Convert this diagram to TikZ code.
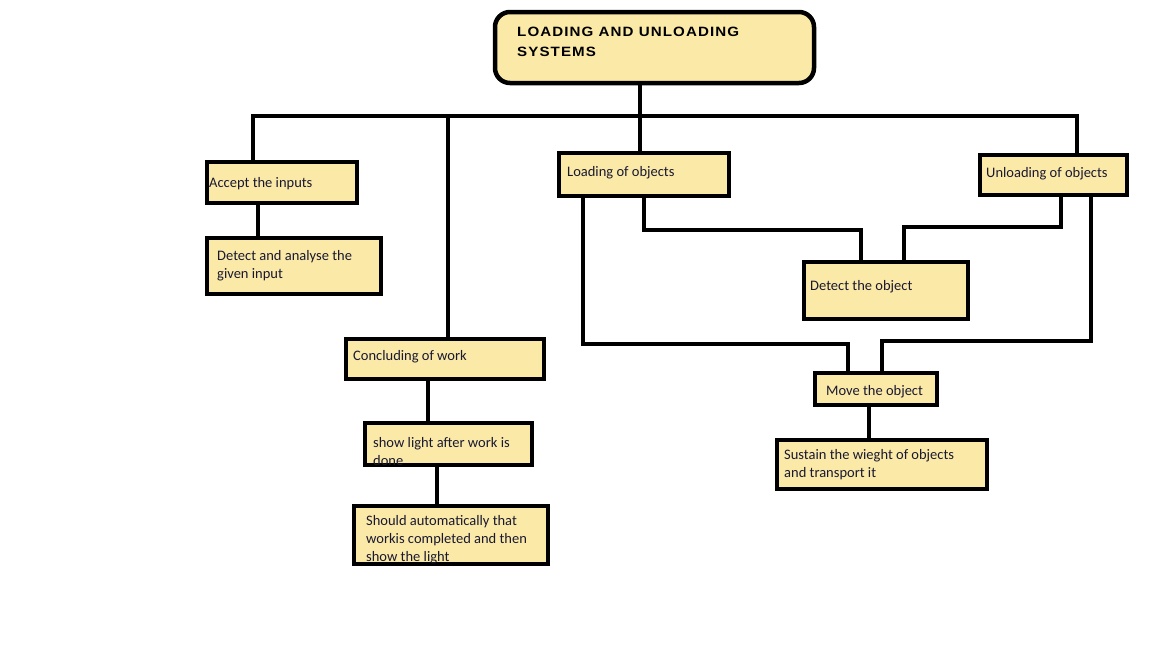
\documentclass[tikz,border=0pt]{standalone}
\usepackage{fontspec}
\setmainfont{Carlito}
\newfontfamily\titlefont[LetterSpace=8,FakeStretch=1.12]{Liberation Sans}
\usetikzlibrary{calc}
\definecolor{boxfill}{HTML}{FBE9A7}
\definecolor{txtcol}{RGB}{25,25,50}
\tikzset{
  box/.style={draw=black, line width=4.5pt, fill=boxfill, rectangle, inner sep=0pt, outer sep=0pt},
  link/.style={draw=black, line width=4.5pt, line cap=rect},
  txt/.style={anchor=north west, inner sep=0pt, align=left, text=txtcol,
              font=\fontsize{14.5}{18}\selectfont},
}
\begin{document}
\begin{tikzpicture}[x=1pt,y=-1pt]
\useasboundingbox (0,0) rectangle (1152,648);
% boxes
\node[box, rounded corners=15pt, minimum width=319pt, minimum height=71pt] (title) at (654.5,47.5) {};
\node[box, minimum width=150pt, minimum height=41pt] (acc) at (282,182.5) {};
\node[box, minimum width=174pt, minimum height=56pt] (det) at (294,266) {};
\node[box, minimum width=198pt, minimum height=40pt] (con) at (445,359) {};
\node[box, minimum width=167pt, minimum height=42pt] (show) at (448.5,444) {};
\node[box, minimum width=194pt, minimum height=58pt] (should) at (451,535) {};
\node[box, minimum width=170pt, minimum height=43pt] (load) at (644,174.5) {};
\node[box, minimum width=147pt, minimum height=40pt] (unl) at (1053.5,175) {};
\node[box, minimum width=164pt, minimum height=57pt] (dobj) at (886,290.5) {};
\node[box, minimum width=122pt, minimum height=32pt] (move) at (876,389) {};
\node[box, minimum width=210pt, minimum height=49pt] (sus) at (882,464.5) {};
% texts
\node[anchor=north west, inner sep=0pt, align=left, font=\titlefont\bfseries\fontsize{13.5}{20}\selectfont] (ttitle) at (517,27) {LOADING AND UNLOADING\\SYSTEMS};
\node[txt] (tacc) at (209,177) {Accept the inputs};
\node[txt] (tdet) at (217,250) {Detect and analyse the\\given input};
\node[txt] (tcon) at (353,350) {Concluding of work};
\node[txt] (tshow) at (373,437) {show light after work is\\done};
\node[txt] (tshould) at (366,515) {Should automatically that\\workis completed and then\\show the light};
\node[txt] (tload) at (567,166) {Loading of objects};
\node[txt] (tunl) at (986,167) {Unloading of objects};
\node[txt] (tdobj) at (810,280) {Detect the object};
\node[txt] (tmove) at (826,385) {Move the object};
\node[txt] (tsus) at (784,449) {Sustain the wieght of objects\\and transport it};
% connectors
\coordinate (hub) at ($(title.south)+(-14.5,33)$);
\draw[link] ($(title.south)+(-14.5,0)$) -- (hub);
\draw[link] ($(acc.north west)+(46,0)$) |- (hub) -| ($(unl.north west)+(97,0)$);
\draw[link] (hub) -- (hub |- load.north);
\coordinate (c1) at ($(con.north west)+(102,0)$);
\draw[link] (c1) -- (c1 |- hub);
\coordinate (a1) at ($(acc.south west)+(51,0)$);
\draw[link] (a1) -- (a1 |- det.north);
\coordinate (a2) at ($(con.south west)+(82,0)$);
\draw[link] (a2) -- (a2 |- show.north);
\coordinate (a3) at ($(show.south west)+(72,0)$);
\draw[link] (a3) -- (a3 |- should.north);
\draw[link] (load.south) -- ++(0,34) -| ($(dobj.north west)+(57,0)$);
\draw[link] ($(unl.south west)+(81,0)$) -- ++(0,32) -| ($(dobj.north west)+(100,0)$);
\draw[link] ($(load.south west)+(24,0)$) -- ++(0,148) -| ($(move.north west)+(33,0)$);
\draw[link] ($(unl.south west)+(111,0)$) -- ++(0,146) -| ($(move.north west)+(67,0)$);
\coordinate (a4) at ($(move.south west)+(54,0)$);
\draw[link] (a4) -- (a4 |- sus.north);
\end{tikzpicture}
\end{document}
